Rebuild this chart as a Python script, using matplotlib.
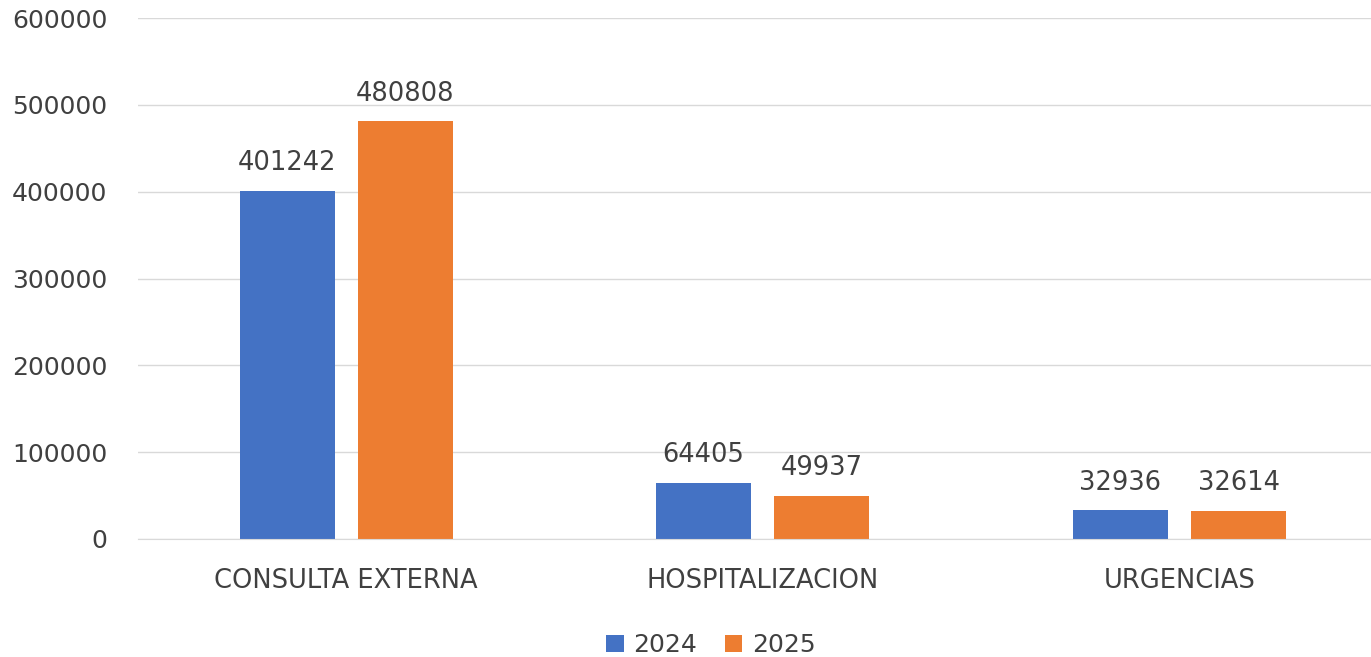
import matplotlib.pyplot as plt
import numpy as np

categories = ['CONSULTA EXTERNA', 'HOSPITALIZACION', 'URGENCIAS']
series_names = ['2024', '2025']
values_2024 = [401242, 64405, 32936]
values_2025 = [480808, 49937, 32614]
yticks = [0, 100000, 200000, 300000, 400000, 500000, 600000]

blue = '#4472C4'
orange = '#ED7D31'
text_color = '#404040'

fig = plt.figure(figsize=(13.71, 6.57), dpi=100)
ax = fig.add_axes([138 / 1371, 118 / 657, 1 - 138 / 1371, (539 - 18) / 657])

x = np.arange(len(categories))
w = 0.228
off = 0.142
b1 = ax.bar(x - off, values_2024, w, color=blue, label=series_names[0])
b2 = ax.bar(x + off, values_2025, w, color=orange, label=series_names[1])

for bars in (b1, b2):
    for rect in bars:
        h = rect.get_height()
        ax.text(rect.get_x() + rect.get_width() / 2, h + 17000, f'{int(h)}',
                ha='center', va='bottom', fontsize=18.5, color=text_color)

ax.set_ylim(0, 600000)
ax.set_xlim(-0.5, 2.46)
ax.set_yticks(yticks)
ax.set_yticklabels([str(t) for t in yticks])
ax.set_xticks(x)
ax.set_xticklabels(categories)
ax.tick_params(axis='y', length=0, pad=22, labelsize=18, labelcolor=text_color)
ax.tick_params(axis='x', length=0, pad=21, labelsize=18.5, labelcolor=text_color)
ax.grid(axis='y', color='#D9D9D9', linewidth=1)
ax.set_axisbelow(True)
for s in ['top', 'right', 'left']:
    ax.spines[s].set_visible(False)
ax.spines['bottom'].set_color('#D9D9D9')

fig.legend(loc='lower center', bbox_to_anchor=(0.5186, -0.035), ncol=2, frameon=False,
           fontsize=18, labelcolor=text_color, handlelength=0.7, handleheight=0.7,
           handletextpad=0.4, columnspacing=1.1)

fig.savefig('out.png', dpi=100)
